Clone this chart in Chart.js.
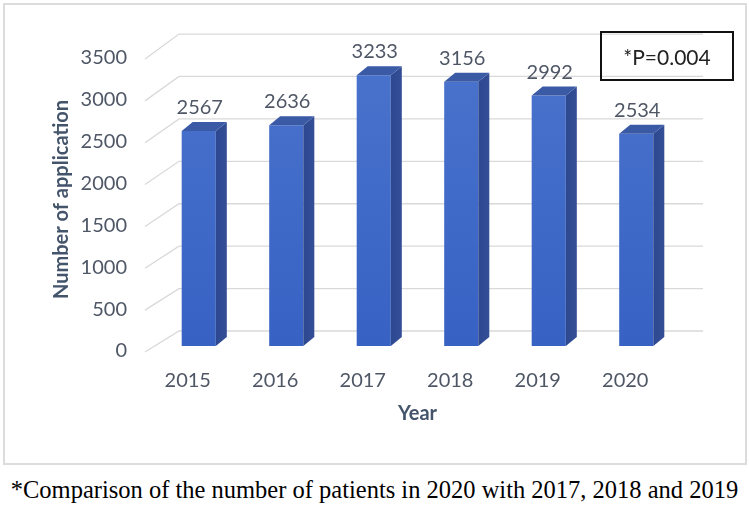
<!DOCTYPE html>
<html>
<head>
<meta charset="utf-8">
<script src="https://cdn.jsdelivr.net/npm/chart.js@4/dist/chart.umd.min.js"></script>
<style>
  body { margin: 0; background: #fff; width: 749px; height: 512px; position: relative; overflow: hidden; }
  #frame { position: absolute; left: 3px; top: 3px; width: 740px; height: 458px; border: 2px solid #dcdcdc; }
  #chart { position: absolute; left: 0; top: 0; }
  #pbox { position: absolute; left: 600px; top: 31px; width: 130px; height: 46px; border: 2px solid #111;
          font: 21px Lato, sans-serif; color: #222; display: flex; align-items: center; justify-content: center; }
  #caption { position: absolute; left: 0; width: 749px; top: 476px; text-align: center;
             font: 24.5px "Liberation Serif", "Times New Roman", serif; color: #000; white-space: nowrap; }
</style>
</head>
<body>
<div id="frame"></div>
<canvas id="chart" width="749" height="470"></canvas>
<div id="pbox">*P=0.004</div>
<div id="caption">*Comparison of the number of patients in 2020 with 2017, 2018 and 2019</div>
<script>
const years = ["2015", "2016", "2017", "2018", "2019", "2020"];
const applications = [2567, 2636, 3233, 3156, 2992, 2534];
const yTicks = [0, 500, 1000, 1500, 2000, 2500, 3000, 3500];

const textColor = "#4f5766";
const titleColor = "#44546a";
const depthX = 11, depthY = -9;

// slanted side lines + back wall gridlines
const wallGrid = {
  id: "wallGrid",
  beforeDatasetsDraw(chart) {
    const ctx = chart.ctx;
    const y = chart.scales.y;
    const area = chart.chartArea;
    const y0 = y.getPixelForValue(0);
    ctx.save();
    ctx.strokeStyle = "#d9d9d9";
    ctx.lineWidth = 1.3;
    yTicks.forEach(v => {
      const p = y.getPixelForValue(v);
      const back = p - 15 - (y0 - p) * 0.0135;
      ctx.beginPath();
      ctx.moveTo(area.left - 10, p + 6);
      ctx.lineTo(area.left + 24, back);
      ctx.lineTo(area.right + 23, back);
      ctx.stroke();
    });
    ctx.restore();
  }
};

// side and top faces + value labels
const bars3d = {
  id: "bars3d",
  afterDatasetsDraw(chart) {
    const ctx = chart.ctx;
    const meta = chart.getDatasetMeta(0);
    ctx.save();
    meta.data.forEach((bar, i) => {
      const left = bar.x - bar.width / 2;
      const right = bar.x + bar.width / 2;
      const top = bar.y;
      const base = bar.base;

      const side = ctx.createLinearGradient(right, 0, right + depthX, 0);
      side.addColorStop(0, "#2c4890");
      side.addColorStop(1, "#354f96");
      ctx.fillStyle = side;
      ctx.beginPath();
      ctx.moveTo(right, top);
      ctx.lineTo(right + depthX, top + depthY);
      ctx.lineTo(right + depthX, base + depthY);
      ctx.lineTo(right, base);
      ctx.closePath();
      ctx.fill();

      ctx.fillStyle = "#3a5aa6";
      ctx.beginPath();
      ctx.moveTo(left, top);
      ctx.lineTo(left + depthX, top + depthY);
      ctx.lineTo(right + depthX, top + depthY);
      ctx.lineTo(right, top);
      ctx.closePath();
      ctx.fill();

      ctx.fillStyle = textColor;
      ctx.font = "20px Lato, sans-serif";
      ctx.textAlign = "center";
      ctx.textBaseline = "alphabetic";
      ctx.fillText(String(applications[i]), bar.x + 1, top - 17);
    });
    ctx.restore();
  }
};

new Chart(document.getElementById("chart"), {
  type: "bar",
  data: {
    labels: years,
    datasets: [{
      data: applications,
      barPercentage: 0.39,
      categoryPercentage: 1,
      borderWidth: 0,
      backgroundColor: c => {
        const { ctx, chartArea } = c.chart;
        if (!chartArea) return "#3f68c6";
        const g = ctx.createLinearGradient(0, chartArea.top, 0, chartArea.bottom);
        g.addColorStop(0, "#4a73cc");
        g.addColorStop(1, "#3762c4");
        return g;
      }
    }]
  },
  options: {
    responsive: false,
    animation: false,
    layout: { padding: { left: 46, right: 69, top: 53, bottom: 40 } },
    plugins: { legend: { display: false }, tooltip: { enabled: false } },
    scales: {
      x: {
        grid: { display: false, drawTicks: false },
        border: { display: false },
        ticks: { color: textColor, font: { family: "Lato", size: 20 }, padding: 23, labelOffset: -11 },
        title: { display: true, text: "Year", color: titleColor, font: { family: "Lato", size: 20, weight: "bold" } },
        afterFit(s) { s.height = 84; }
      },
      y: {
        min: 0,
        max: 3500,
        grid: { display: false, drawTicks: false },
        border: { display: false },
        ticks: { stepSize: 500, color: textColor, font: { family: "Lato", size: 20 }, padding: 28, labelOffset: 5,
                 callback: v => String(v) },
        title: { display: true, text: "Number of application", color: titleColor, font: { family: "Lato", size: 20, weight: "bold" } },
        afterFit(s) { s.width = 109; }
      }
    }
  },
  plugins: [wallGrid, bars3d]
});
</script>
</body>
</html>
